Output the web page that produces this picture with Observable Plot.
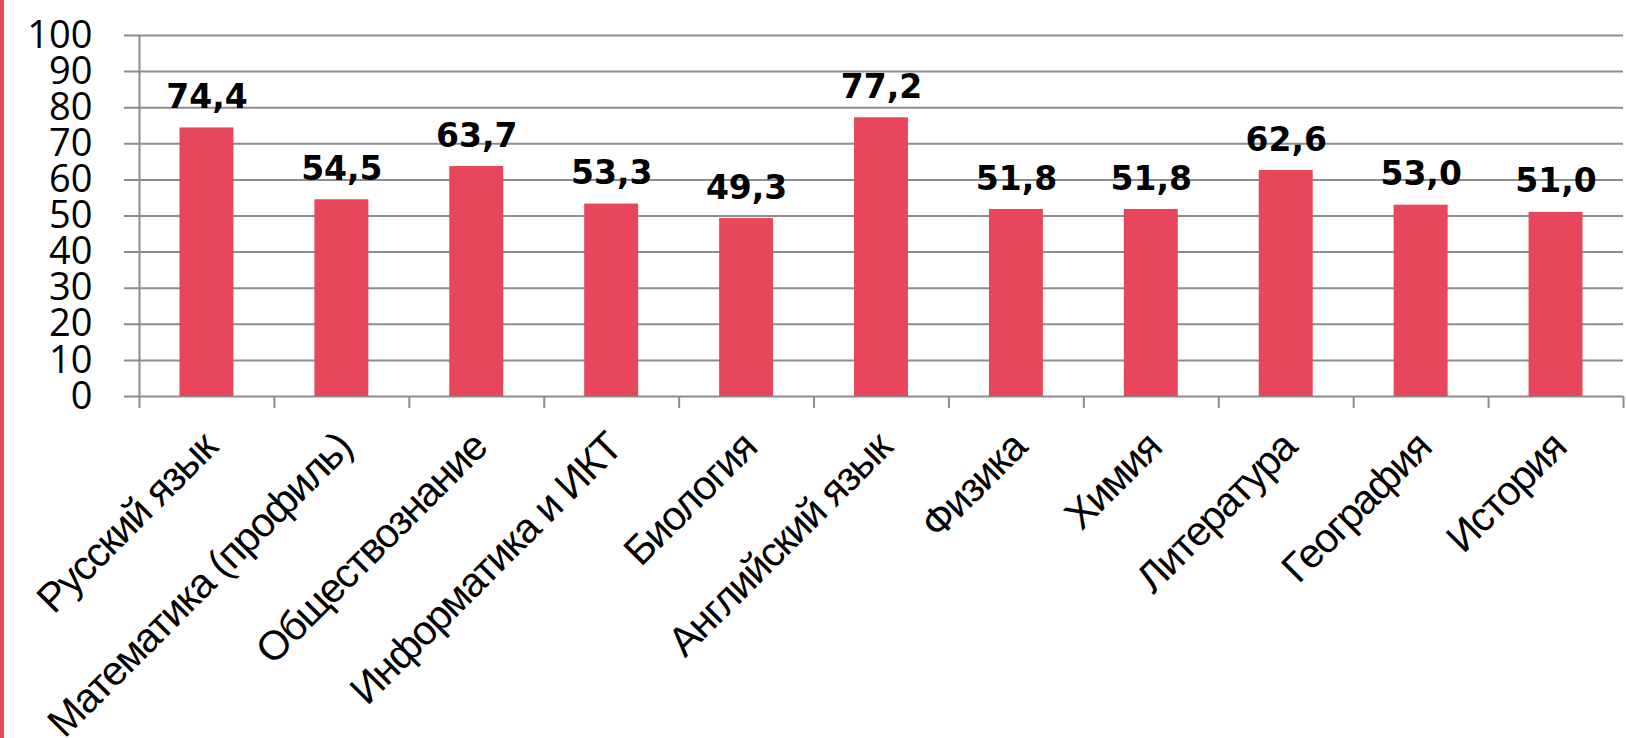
<!DOCTYPE html>
<html>
<head>
<meta charset="utf-8">
<script src="https://cdn.jsdelivr.net/npm/d3@7"></script>
<script src="https://cdn.jsdelivr.net/npm/@observablehq/plot@0.6"></script>
<style>
  html, body { margin: 0; padding: 0; background: #fff; overflow: hidden; }
  #wrap { position: relative; width: 1626px; height: 738px; }
  #strip { position: absolute; left: 0; top: 0; width: 4px; height: 738px; background: #E8475B; }
  #chart { position: absolute; left: 0; top: 0; }
</style>
</head>
<body>
<div id="wrap"><div id="chart"></div><div id="strip"></div></div>
<script>
const subjects = ["Русский язык", "Математика (профиль)", "Обществознание", "Информатика и ИКТ", "Биология", "Английский язык", "Физика", "Химия", "Литература", "География", "История"];
const scores = [74.4, 54.5, 63.7, 53.3, 49.3, 77.2, 51.8, 51.8, 62.6, 53.0, 51.0];
const yTicks = [0, 10, 20, 30, 40, 50, 60, 70, 80, 90, 100];

const data = subjects.map((s, i) => ({subject: s, score: scores[i], i}));
const fmt = v => v.toFixed(1).replace(".", ",");
const grid = "#8c8c8c";

const chart = Plot.plot({
  width: 1626,
  height: 738,
  marginLeft: 124,
  marginRight: 3,
  marginTop: 35,
  marginBottom: 342,
  style: {background: "white", overflow: "visible", color: "black"},
  x: {type: "linear", domain: [0, subjects.length], insetLeft: 15, axis: null},
  y: {domain: [0, 100], axis: null},
  marks: [
    Plot.ruleY(yTicks, {stroke: grid, strokeWidth: 2}),
    Plot.ruleX([0], {y1: 0, y2: 100, stroke: grid, strokeWidth: 2}),
    Plot.axisX({ticks: d3.range(0, subjects.length + 1), tickSize: 12, tickFormat: () => "", label: null, stroke: grid, strokeWidth: 2}),
    Plot.rectY(data, {x1: d => d.i + 0.3, x2: d => d.i + 0.7, y: "score", fill: "#E8475B"}),
    Plot.text(data, {x: d => d.i + 0.5, y: "score", text: d => fmt(d.score), dy: -20, lineAnchor: "bottom",
      fontSize: 33, fontWeight: "bold", fontFamily: "DejaVu Sans", fill: "black"}),
    Plot.axisY({ticks: yTicks, tickSize: 0, tickPadding: 32, label: null, fontSize: 38, fontFamily: "Open Sans", fill: "black"}),
    Plot.text(data, {x: d => d.i + 0.5, y: 0, text: "subject", rotate: -45, textAnchor: "end", lineAnchor: "middle",
      dx: 3, dy: 44, fontSize: 41, fontFamily: "Liberation Sans", fill: "black"})
  ]
});
// tighten category label letter spacing (condensed look of the original)
const textGroups = chart.querySelectorAll('g[aria-label="text"]');
if (textGroups.length) {
  textGroups[textGroups.length - 1].querySelectorAll("text").forEach(t => t.style.letterSpacing = "-1.5px");
}
document.getElementById("chart").appendChild(chart);
</script>
</body>
</html>
